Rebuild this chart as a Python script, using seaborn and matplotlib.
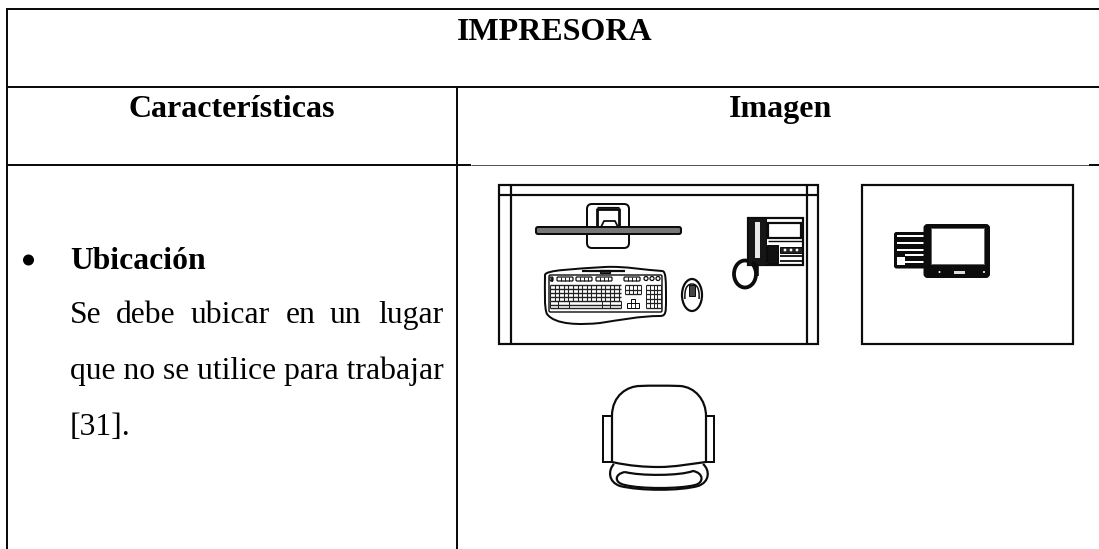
import matplotlib
matplotlib.use("Agg")
import matplotlib.pyplot as plt
import seaborn as sns
from matplotlib.patches import Rectangle, FancyBboxPatch, Ellipse, PathPatch, Circle
from matplotlib.path import Path

TITLE = "IMPRESORA"
COLUMN_HEADS = ["Características", "Imagen"]
ITEM_HEAD = "Ubicación"
JUSTIFIED_WORDS = ["Se", "debe", "ubicar", "en", "un", "lugar"]
BODY_LINES = ["que no se utilice para trabajar", "[31]."]

sns.set_theme(style="white")
plt.rcParams["font.family"] = ["Liberation Serif", "DejaVu Serif"]

fig = plt.figure(figsize=(10.99, 5.49), dpi=100, facecolor="white")
ax = fig.add_axes([0, 0, 1, 1])
ax.set_xlim(0, 1099)
ax.set_ylim(549, 0)
ax.axis("off")

INK = "#0c0c0c"
PX = 0.72


def line(xs, ys, w=1.5, c=INK, **kw):
    ax.plot(xs, ys, color=c, lw=w * PX, solid_capstyle=kw.pop("cap", "butt"),
            solid_joinstyle="round", **kw)


def rect(x0, y0, x1, y1, w=1.5, fc="none", ec=INK):
    ax.add_patch(Rectangle((x0, y0), x1 - x0, y1 - y0, fc=fc, ec=ec, lw=w * PX))


def rrect(x0, y0, x1, y1, r, w=1.5, fc="none", ec=INK):
    ax.add_patch(FancyBboxPatch((x0 + r, y0 + r), x1 - x0 - 2 * r, y1 - y0 - 2 * r,
                                boxstyle=f"round,pad={r},rounding_size={r}",
                                fc=fc, ec=ec, lw=w * PX))


def curve(verts, w=1.5, fc="none", ec=INK):
    codes = [Path.MOVETO] + [Path.CURVE4] * (len(verts) - 1)
    ax.add_patch(PathPatch(Path(verts, codes), fc=fc, ec=ec, lw=w * PX))


# ---- table rules
line([7, 7], [9, 549], 2)
line([6, 1099], [9, 9], 2)
line([6, 1099], [87, 87], 2)
line([457, 457], [87, 549], 2)
line([6, 471], [165, 165], 2)
line([471, 1089], [165, 165], 1, c="#555555")
line([1089, 1099], [165, 165], 2)

# ---- text
HEAD = 23
BODY = 22.8
ax.text(555, 39.5, TITLE, ha="center", va="baseline", fontsize=HEAD, fontweight="bold", color="black")
ax.text(232, 117, COLUMN_HEADS[0], ha="center", va="baseline", fontsize=HEAD, fontweight="bold", color="black")
ax.text(780, 117, COLUMN_HEADS[1], ha="center", va="baseline", fontsize=HEAD, fontweight="bold", color="black")
ax.add_patch(Circle((28.5, 260), 5.5, fc="black", ec="none"))
ax.text(70, 269, ITEM_HEAD, va="baseline", fontsize=BODY, fontweight="bold", color="black")
for word, x in zip(JUSTIFIED_WORDS, [70, 116, 191, 286, 330, 378]):
    ax.text(x, 323, word, va="baseline", fontsize=BODY, color="black")
ax.text(70, 379, BODY_LINES[0], va="baseline", fontsize=BODY, color="black")
ax.text(70, 435, BODY_LINES[1], va="baseline", fontsize=BODY, color="black")

# ---- desk
rect(499, 184.5, 818, 344, 2.2)
line([499, 818], [195, 195], 2.2)
line([511, 511], [184, 344], 2.2)
line([807, 807], [184, 344], 2.2)

# monitor
rrect(587, 204, 629, 248, 5, 2)
rrect(536, 227, 681, 234, 2, 2, fc="#777777")
line([597, 597, 619, 619], [227, 209, 209, 227], 2.8)
line([601, 604, 615, 618], [227, 221, 221, 227], 1.8)
line([597, 619], [207, 207], 1.2)

# keyboard outline
curve([(545, 275), (545, 270), (575, 269), (605, 267), (625, 266), (645, 270), (662, 271),
       (666, 271), (666, 280), (666, 300), (666, 312), (666, 316), (660, 316)], 2)
curve([(660, 316), (640, 316), (620, 320), (600, 323), (580, 325), (555, 325), (547, 314),
       (544, 308), (545, 290), (545, 275)], 2)
rrect(549, 275, 662, 312, 1.5, 1.4)
line([582, 625], [271, 271], 2.2)
rect(600, 269.5, 610, 273, 1.2, fc="#333333")
# function row
for x0, x1 in [(550, 553), (557, 573), (576, 592), (596, 612), (624, 640)]:
    rrect(x0, 277, x1, 281, 1, 1.2)
    for k in range(1, 4):
        line([x0 + (x1 - x0) * k / 4] * 2, [277, 281], 0.9)
for x in (646, 652, 658):
    ax.add_patch(Circle((x, 278.5), 2, fc="none", ec=INK, lw=0.9))
# main keys
for y in [285, 289, 293, 297, 301, 305, 308]:
    line([550, 621], [y, y], 1.4, c="#222222")
for k in range(0, 16):
    x = 550 + k * 4.6
    line([x, x], [285, 301], 1.1, c="#222222")
for x in (550, 558, 569, 602, 610, 621):
    line([x, x], [301, 308], 1, c="#222222")
# nav cluster and numpad
for x0, x1, y0, y1, nx, ny in [(625, 641, 285, 294, 4, 2), (646, 661, 285, 308, 4, 5)]:
    for j in range(ny + 1):
        y = y0 + (y1 - y0) * j / ny
        line([x0, x1], [y, y], 1.3, c="#222222")
    for j in range(nx + 1):
        x = x0 + (x1 - x0) * j / nx
        line([x, x], [y0, y1], 1, c="#222222")
rect(631, 299, 635, 303, 1)
rect(627, 303, 639, 308, 1)
line([631, 631], [303, 308], 0.9)
line([635, 635], [303, 308], 0.9)

# mouse
ax.add_patch(Ellipse((692, 295), 20, 32, fc="none", ec=INK, lw=2.2 * PX))
curve([(685, 299), (684, 286), (689, 284), (692, 284), (695, 284), (700, 286), (699, 299)], 1.5)
rect(689, 285, 695, 296, 1, fc="#444444")

# phone
ax.add_patch(Ellipse((745, 274), 22, 27, fc="none", ec=INK, lw=3.8 * PX))
rect(748, 217.5, 803, 265, 2.2, fc="white")
rect(748, 217.5, 766, 265, 1, fc="#161616")
rect(755, 222, 760, 258, 0, fc="#e8e8e8", ec="none")
rect(767.5, 223, 800.5, 238, 2.2)
rect(767, 245, 778, 263, 1, fc="#111111")
line([768, 802], [241, 241], 1.4)
line([780, 802], [256, 256], 1.8)
line([780, 802], [261, 261], 1.8)
rect(780, 247, 802, 253, 1, fc="#222222")
for x in (785, 791, 797):
    ax.add_patch(Circle((x, 250), 1.4, fc="white", ec="none"))
line([752, 757, 757], [262, 266, 276], 3.6)

# ---- right table and printer
rect(861.5, 185, 1073, 343.5, 2.2)
rrect(894.5, 232.5, 928, 268, 2, 1, fc=INK)
for x0, yc in [(897, 236), (897, 243), (897, 250), (905, 255), (905, 262)]:
    rect(x0, yc - 1.3, 925, yc + 1.3, 0, fc="white", ec="none")
rect(897, 257, 904.5, 265, 0, fc="white", ec="none")
rrect(924.5, 225, 989, 277, 3, 2, fc=INK)
rect(930.5, 228, 984, 263.5, 1, fc="white", ec="#666666")
rect(954, 271, 965, 273.5, 0.5, fc="#dddddd", ec="none")
ax.add_patch(Circle((939.5, 272), 1, fc="white", ec="none"))
ax.add_patch(Circle((984, 272), 1, fc="white", ec="none"))

# ---- chair
rect(603, 416, 612, 462, 2)
rect(706, 416, 714, 462, 2)
curve([(612, 416), (612, 395), (628, 386), (640, 386), (650, 385.5), (665, 385.5), (680, 386),
       (695, 387), (706, 400), (706, 416)], 2.2, fc="white")
line([612, 612], [416, 462], 2.2)
line([706, 706], [416, 462], 2.2)
curve([(612, 462), (630, 466), (645, 467), (659, 467), (675, 467), (690, 464), (706, 462)], 2.2)
curve([(614, 464), (608, 470), (608, 482), (620, 486), (640, 491), (680, 491), (698, 486),
       (710, 482), (710, 470), (703, 464)], 2.2)
curve([(625, 472), (614, 474), (614, 483), (625, 485), (640, 489), (680, 489), (695, 485),
       (704, 483), (704, 473), (693, 471), (680, 476), (640, 476), (625, 472)], 2.2)

fig.savefig("out.png", dpi=100, facecolor="white")
